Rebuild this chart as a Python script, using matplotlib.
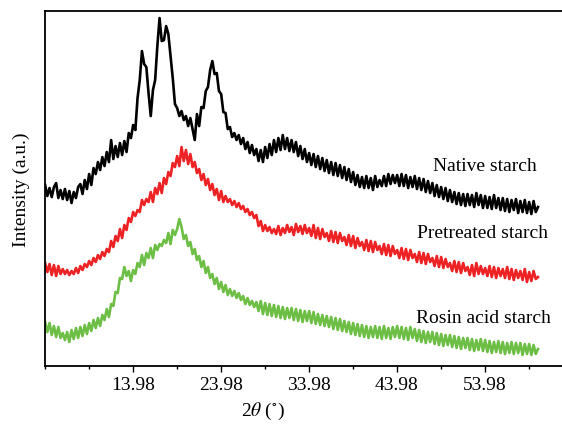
import numpy as np
import matplotlib
matplotlib.use("Agg")
from matplotlib import pyplot as plt

# 2theta sampling (deg), 0.25 step from 4 to 60
two_theta = np.arange(4.0, 60.01, 0.25)

# intensities (a.u.), noise band included
native = [
    181, 170, 178, 169, 179, 183, 168, 176,
    167, 177, 166, 175, 163, 174, 168, 179,
    182, 172, 186, 177, 192, 181, 198, 192,
    204, 196, 209, 200, 214, 204, 226, 207,
    220, 209, 223, 211, 225, 214, 233, 228,
    241, 236, 268, 286, 315, 302, 299, 273,
    250, 276, 286, 320, 348, 325, 326, 340,
    332, 310, 288, 262, 258, 250, 255, 246,
    250, 240, 248, 237, 226, 252, 240, 259,
    258, 275, 279, 296, 305, 292, 293, 275,
    272, 254, 253, 237, 239, 229, 233, 226,
    231, 222, 228, 217, 224, 213, 221, 211,
    217, 205, 216, 204, 219, 208, 222, 211,
    226, 214, 228, 216, 231, 217, 228, 215,
    226, 214, 224, 210, 220, 207, 217, 204,
    213, 201, 212, 199, 210, 197, 208, 195,
    206, 193, 204, 191, 203, 190, 201, 188,
    199, 186, 197, 184, 194, 181, 191, 179,
    189, 178, 190, 178, 188, 176, 190, 179,
    186, 180, 190, 180, 192, 182, 191, 183,
    191, 180, 192, 180, 191, 178, 189, 179,
    190, 177, 188, 176, 187, 174, 185, 173,
    183, 170, 181, 169, 179, 167, 178, 165,
    176, 164, 174, 162, 173, 161, 172, 160,
    172, 161, 171, 159, 173, 161, 171, 158,
    170, 158, 169, 157, 171, 158, 168, 156,
    168, 155, 167, 154, 166, 156, 167, 153,
    165, 154, 166, 153, 164, 152, 165, 154,
    159,
]

pretreated = [
    103, 94, 102, 91, 101, 90, 100, 92,
    97, 92, 96, 91, 95, 92, 98, 93,
    100, 96, 102, 99, 105, 101, 108, 104,
    111, 107, 114, 110, 117, 114, 125, 119,
    130, 125, 137, 128, 141, 136, 148, 144,
    154, 150, 156, 154, 166, 161, 167, 164,
    174, 164, 178, 172, 183, 173, 188, 182,
    194, 190, 203, 199, 210, 200, 219, 205,
    216, 202, 212, 199, 204, 193, 197, 186,
    192, 181, 187, 176, 182, 171, 177, 166,
    175, 164, 170, 164, 167, 161, 165, 159,
    163, 157, 160, 154, 157, 151, 154, 148,
    151, 140, 145, 135, 141, 135, 139, 133,
    137, 132, 140, 131, 138, 133, 141, 134,
    139, 131, 142, 134, 140, 132, 141, 133,
    138, 130, 141, 128, 138, 127, 137, 129,
    133, 125, 135, 124, 134, 123, 133, 125,
    129, 121, 131, 120, 130, 118, 128, 120,
    124, 116, 126, 115, 125, 114, 124, 116,
    120, 112, 122, 111, 121, 110, 120, 112,
    116, 108, 118, 107, 117, 106, 116, 108,
    112, 104, 114, 103, 113, 102, 112, 104,
    108, 100, 110, 99, 109, 98, 107, 99,
    103, 95, 105, 94, 104, 93, 103, 95,
    99, 91, 101, 90, 103, 92, 100, 92,
    98, 90, 100, 89, 99, 88, 98, 90,
    97, 88, 99, 87, 97, 86, 96, 88,
    95, 86, 97, 84, 94, 85, 95, 87,
    89,
]

rosin = [
    44, 34, 43, 31, 40, 29, 39, 28,
    33, 26, 34, 24, 36, 27, 38, 28,
    39, 30, 41, 32, 43, 35, 46, 38,
    48, 40, 51, 46, 57, 49, 62, 60,
    74, 73, 88, 87, 99, 90, 95, 85,
    96, 92, 103, 99, 111, 101, 113, 108,
    118, 108, 121, 116, 122, 120, 126, 123,
    133, 122, 136, 131, 137, 147, 139, 127,
    131, 120, 124, 112, 117, 106, 110, 99,
    105, 93, 99, 88, 92, 82, 88, 77,
    84, 74, 81, 71, 77, 70, 75, 68,
    73, 66, 70, 62, 68, 61, 65, 59,
    64, 55, 65, 52, 63, 51, 62, 50,
    61, 49, 60, 48, 59, 47, 58, 48,
    58, 46, 57, 45, 56, 44, 55, 45,
    55, 43, 54, 42, 52, 41, 51, 40,
    50, 39, 49, 37, 48, 36, 47, 35,
    45, 34, 44, 32, 43, 31, 42, 30,
    41, 29, 40, 28, 39, 29, 40, 28,
    39, 27, 40, 28, 38, 27, 39, 29,
    40, 28, 39, 27, 38, 26, 39, 28,
    37, 25, 36, 24, 35, 23, 34, 24,
    34, 22, 33, 21, 32, 20, 31, 21,
    31, 19, 30, 18, 29, 17, 28, 18,
    28, 16, 27, 15, 26, 16, 27, 15,
    26, 14, 25, 13, 24, 14, 25, 13,
    24, 12, 23, 13, 24, 12, 23, 13,
    23, 11, 22, 12, 22, 11, 21, 12,
    17,
]

names = ["Native starch", "Pretreated starch", "Rosin acid starch"]
major_ticks = [13.98, 23.98, 33.98, 43.98, 53.98]

plt.rcParams['font.family'] = ['Liberation Serif', 'DejaVu Serif']
plt.rcParams['mathtext.fontset'] = 'stix'

fig = plt.figure(figsize=(5.62, 4.31), dpi=100)
ax = fig.add_axes([0.080, 0.1485, 0.920, 0.8235])

ax.plot(two_theta, native, color='black', lw=1.9)
ax.plot(two_theta, pretreated, color='#ED2224', lw=1.9)
ax.plot(two_theta, rosin, color='#6DBE45', lw=1.9)

# curve labels
ax.text(59.9, 201, names[0], ha='right', va='center', fontsize=14)
ax.text(61.1, 134, names[1], ha='right', va='center', fontsize=14)
ax.text(61.5, 49, names[2], ha='right', va='center', fontsize=14)

ax.set_xlim(3.98, 62.73)
ax.set_ylim(0, 355)
ax.set_xticks(major_ticks)
ax.set_xticks([3.98 + 5 * k for k in range(12)], minor=True)
ax.set_xticklabels([f"{t:.2f}" for t in major_ticks], fontsize=14)
ax.tick_params(axis='x', which='major', length=4, width=1, pad=3)
ax.tick_params(axis='x', which='minor', length=2.5, width=1)
ax.set_yticks([])

for s in ['left', 'top', 'bottom']:
    ax.spines[s].set_linewidth(1.3)
ax.spines['right'].set_visible(False)

ax.set_xlabel(r'2$\theta$ ($^{\circ}$)', fontsize=14)
ax.xaxis.set_label_coords(0.422, -0.095)
ax.set_ylabel("Intensity (a.u.)", fontsize=14)
ax.yaxis.set_label_coords(-0.028, 0.5)

plt.savefig("out.png", dpi=100)
